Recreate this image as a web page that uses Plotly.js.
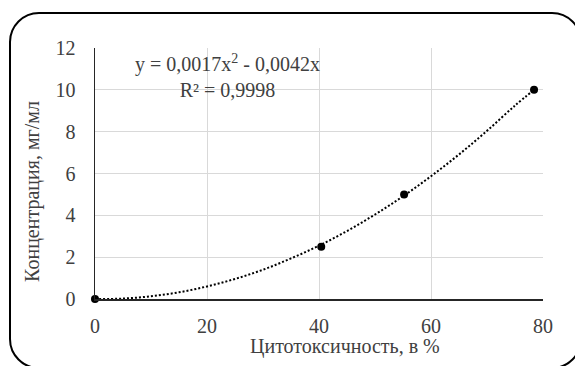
<!DOCTYPE html>
<html>
<head>
<meta charset="utf-8">
<script src="https://cdn.plot.ly/plotly-3.0.1.min.js"></script>
<style>
  html, body { margin: 0; padding: 0; background: #ffffff; overflow: hidden; }
  #wrap { position: relative; width: 575px; height: 366px; overflow: hidden; }
  #frame { position: absolute; left: 9px; top: 12px; width: 573px; height: 357px;
           box-sizing: border-box; border: 2.5px solid #000; border-radius: 30px; pointer-events: none; }
  #chart { position: absolute; left: 0; top: 0; width: 575px; height: 366px; }
</style>
</head>
<body>
<div id="wrap">
  <div id="frame"></div>
  <div id="chart"></div>
</div>
<script>
// Data points
const cytotoxicity = [0, 40.4, 55.2, 78.4];
const concentration = [0, 2.5, 5, 10];

// Dotted polynomial trendline
const trendX = [0, 5, 10, 15, 20, 25, 30, 35, 40, 45, 50, 55, 60, 65, 70, 75, 78.4];
const trendY = [0, 0.02, 0.13, 0.32, 0.6, 0.96, 1.4, 1.94, 2.55, 3.25, 4.04, 4.91, 5.87, 6.91, 8.04, 9.25, 10.0];

const xTicks = [0, 20, 40, 60, 80];
const yTicks = [0, 2, 4, 6, 8, 10, 12];

const xTitle = 'Цитотоксичность, в %';
const yTitle = 'Концентрация, мг/мл';
const eqText = 'y = 0,0017x<sup>2</sup> - 0,0042x<br>R² = 0,9998';

const FONT = '"Liberation Serif", "Times New Roman", serif';
const TXT = '#404040';

const traces = [
  {
    x: trendX, y: trendY, type: 'scatter', mode: 'lines',
    line: { color: '#000', width: 2, dash: '2px,2px', shape: 'spline' },
    hoverinfo: 'skip', showlegend: false
  },
  {
    x: cytotoxicity, y: concentration, type: 'scatter', mode: 'markers',
    marker: { color: '#000', size: 8 },
    showlegend: false, cliponaxis: false
  }
];

const layout = {
  width: 575, height: 366,
  margin: { l: 95, r: 32, t: 48, b: 67 },
  paper_bgcolor: 'rgba(0,0,0,0)',
  plot_bgcolor: 'rgba(0,0,0,0)',
  font: { family: FONT, color: TXT, size: 20 },
  showlegend: false,
  xaxis: {
    range: [0, 80], tickvals: xTicks, ticktext: xTicks.map(String),
    showgrid: true, gridcolor: '#d9d9d9', gridwidth: 1,
    zeroline: false, showline: true, linecolor: '#262626', linewidth: 1.5,
    ticks: '', ticklabelstandoff: 8,
    tickfont: { family: FONT, size: 20, color: TXT }
  },
  yaxis: {
    range: [0, 12], tickvals: yTicks, ticktext: yTicks.map(String),
    showgrid: true, gridcolor: '#d9d9d9', gridwidth: 1,
    zeroline: false, showline: true, linecolor: '#262626', linewidth: 1.5,
    ticks: '', ticklabelstandoff: 14,
    tickfont: { family: FONT, size: 20, color: TXT }
  },
  annotations: [
    {
      text: xTitle, xref: 'paper', yref: 'paper', x: 0.558, y: -0.191,
      xanchor: 'center', yanchor: 'middle', showarrow: false,
      font: { family: FONT, size: 20, color: TXT }
    },
    {
      text: yTitle, xref: 'paper', yref: 'paper', x: -0.141, y: 0.43,
      xanchor: 'center', yanchor: 'middle', showarrow: false, textangle: -90,
      font: { family: FONT, size: 20, color: TXT }
    },
    {
      text: eqText, xref: 'paper', yref: 'paper', x: 0.295, y: 0.888,
      xanchor: 'center', yanchor: 'middle', showarrow: false, align: 'center',
      font: { family: FONT, size: 20, color: TXT }
    }
  ]
};

Plotly.newPlot('chart', traces, layout, { displayModeBar: false, staticPlot: true });
</script>
</body>
</html>
